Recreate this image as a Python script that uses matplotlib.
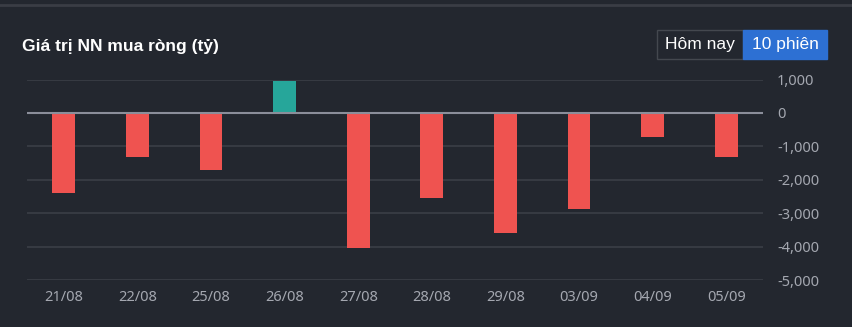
import numpy as np
import matplotlib.pyplot as plt
from matplotlib.patches import Rectangle
import matplotlib.ticker as ticker

# net foreign buying value (ty dong), last 10 sessions
dates = ['21/08', '22/08', '25/08', '26/08', '27/08', '28/08', '29/08', '03/09', '04/09', '05/09']
net_value = [-2400, -1320, -1710, 960, -4040, -2550, -3600, -2880, -720, -1330]
y_ticks = [1000, 0, -1000, -2000, -3000, -4000, -5000]

bg = '#23272f'
grid_col = '#3a3e47'
txt_col = '#a4a7b0'
up_col = '#26a69a'
down_col = '#ef5350'

fig = plt.figure(figsize=(8.52, 3.27), dpi=100, facecolor=bg)
ax = fig.add_axes([27/852, 1 - 280/327, (763 - 27)/852, (280 - 79.5)/327])
ax.set_facecolor(bg)

x = np.arange(len(dates))
colors = [up_col if v >= 0 else down_col for v in net_value]
ax.bar(x, net_value, width=0.31, color=colors, zorder=3)

ax.set_xlim(-0.5, len(dates) - 0.5)
ax.set_ylim(-5000, 1000)
ax.set_yticks(y_ticks)
ax.yaxis.set_major_formatter(ticker.FuncFormatter(lambda v, p: f'{int(v):,}'))
ax.yaxis.tick_right()
ax.set_xticks(x)
ax.set_xticklabels(dates)
ax.tick_params(axis='both', length=0, colors=txt_col, labelsize=10.5)
ax.tick_params(axis='y', pad=10)
ax.tick_params(axis='x', pad=7)
for lab in ax.get_yticklabels() + ax.get_xticklabels():
    lab.set_family('Noto Sans')
for lab in ax.get_yticklabels():
    lab.set_horizontalalignment('left')

ax.grid(axis='y', color=grid_col, linewidth=1.2, zorder=0)
ax.axhline(0, color='#8b8e9a', linewidth=1.5, zorder=4)
for s in ax.spines.values():
    s.set_visible(False)

# top border strip
fig.add_artist(plt.Line2D([0, 1], [1 - 5/327, 1 - 5/327], color='#3a3d45', linewidth=2))

fig.text(22/852, 1 - 46/327, 'Giá trị NN mua ròng (tỷ)', color='white', family='Liberation Sans',
         fontsize=12.5, fontweight='bold', va='center', ha='left')

# period buttons
W, H = 852, 327
fig.add_artist(Rectangle((657/W, 1 - 59/H), 86/W, 29/H, transform=fig.transFigure,
                         facecolor=bg, edgecolor='#44484f', linewidth=1))
fig.add_artist(Rectangle((743/W, 1 - 59/H), 84/W, 29/H, transform=fig.transFigure,
                         facecolor='#2d70d3', edgecolor='#2d70d3', linewidth=1))
fig.text(700/W, 1 - 45/H, 'Hôm nay', color='white', family='Liberation Sans',
         fontsize=12.5, ha='center', va='center')
fig.text(785/W, 1 - 45/H, '10 phiên', color='white', family='Liberation Sans',
         fontsize=12.5, ha='center', va='center')

plt.savefig('out.png', dpi=100, facecolor=bg)
